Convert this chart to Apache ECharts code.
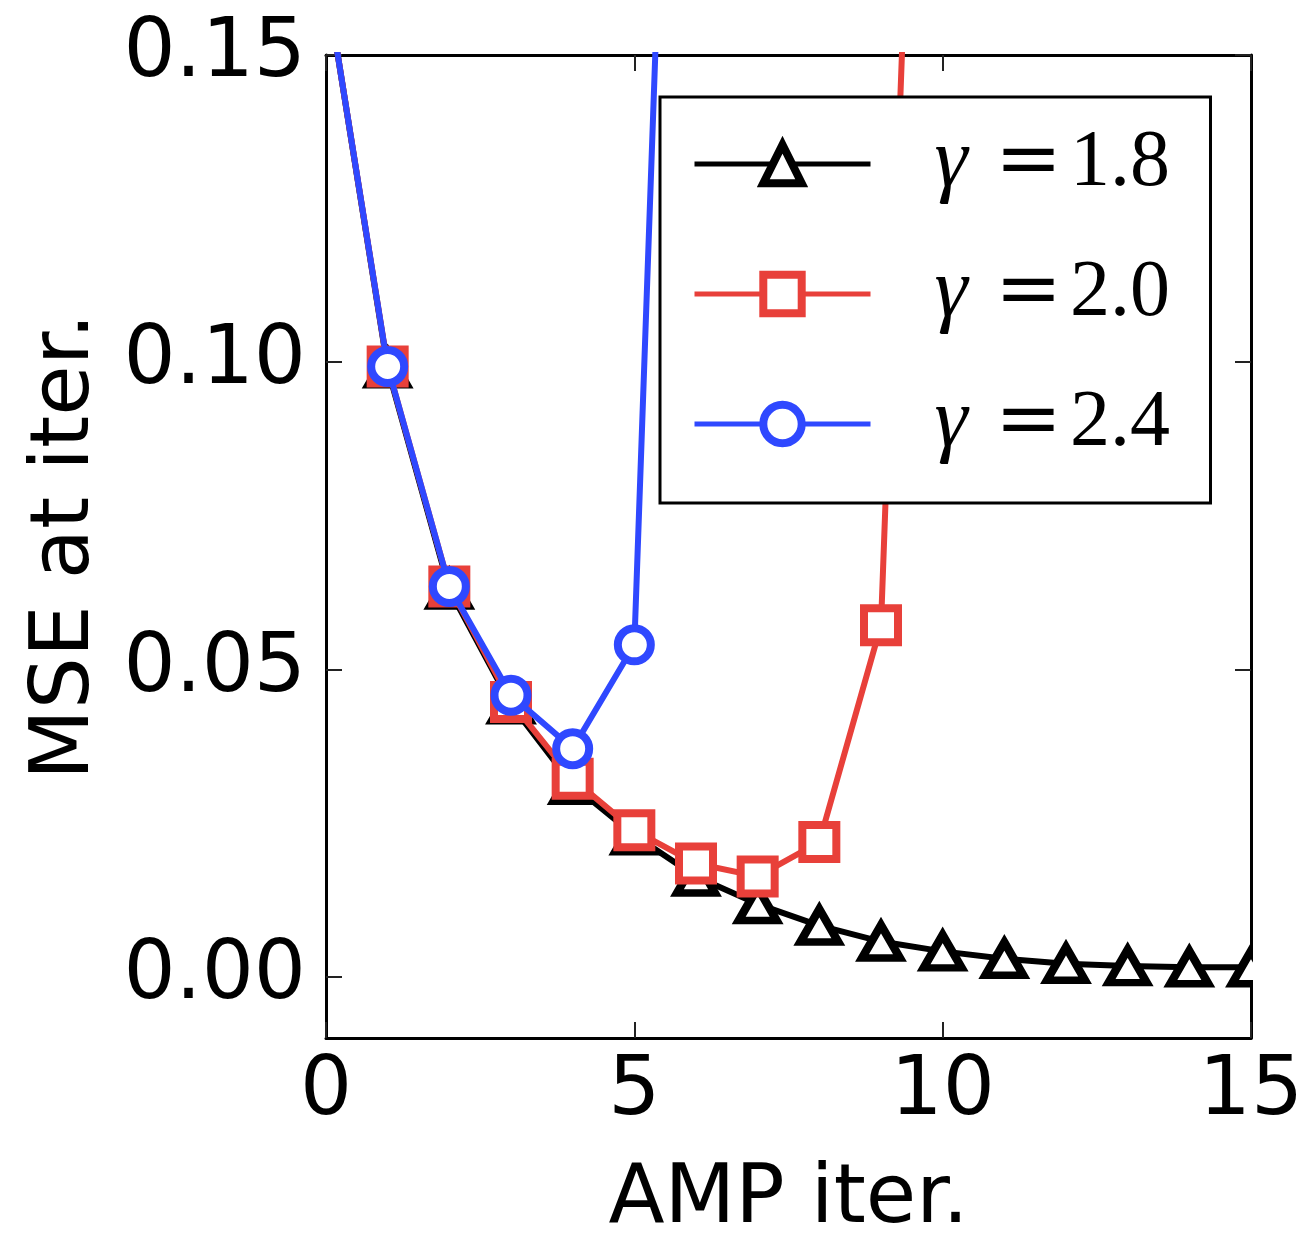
<!DOCTYPE html>
<html><head><meta charset="utf-8">
<script src="https://cdn.jsdelivr.net/npm/echarts@6/dist/echarts.min.js"></script>
<style>html,body{margin:0;padding:0;background:#fff}#c{width:1312px;height:1235px}</style>
</head><body><div id="c"></div>
<script>
// ---- data ----
const seriesNames = ['γ=1.8', 'γ=2.0', 'γ=2.4'];
const iters18 = [0, 1, 2, 3, 4, 5, 6, 7, 8, 9, 10, 11, 12, 13, 14, 15];
const mse18 = [0.162, 0.0990, 0.0630, 0.0443, 0.0312, 0.0230, 0.0163, 0.0118, 0.0083, 0.0057, 0.0041, 0.0029, 0.0021, 0.0017, 0.0015, 0.0015];
const iters20 = [0, 1, 2, 3, 4, 5, 6, 7, 8, 9, 10];
const mse20 = [0.162, 0.0993, 0.0635, 0.0447, 0.0322, 0.0238, 0.0184, 0.0163, 0.0219, 0.0572, 0.331];
const iters24 = [0, 1, 2, 3, 4, 5, 6];
const mse24 = [0.162, 0.0993, 0.0635, 0.0458, 0.0371, 0.0540, 0.337];
const xTicks = [0, 5, 10, 15];
const yTicks = [0.00, 0.05, 0.10, 0.15];

const pairs = (xs, ys) => xs.map((x, i) => [x, ys[i]]);
const SANS = 'DejaVu Sans';
const SERIF = 'Liberation Serif';
const colors = ['#000000', '#e8403a', '#2f48ff'];
const symbols = ['triangle', 'rect', 'circle'];
const sizes = [[38, 33], 34, 33];
const datas = [pairs(iters18, mse18), pairs(iters20, mse20), pairs(iters24, mse24)];

const chart = echarts.init(document.getElementById('c'), null, {renderer: 'canvas'});

const axisCommon = {
  axisLine: {show: true, onZero: false, lineStyle: {color: '#000', width: 3}},
  axisTick: {show: true, inside: true, length: 16, lineStyle: {color: '#222', width: 2}},
  splitLine: {show: false}
};

const option = {
  animation: false,
  backgroundColor: '#fff',
  grid: {left: 326, right: 61, top: 55, bottom: 197, containLabel: false, outerBoundsMode: 'none'},
  xAxis: [
    Object.assign({}, axisCommon, {
      type: 'value', position: 'bottom', min: 0, max: 15, interval: 5,
      name: 'AMP iter.', nameLocation: 'middle', nameGap: 122,
      nameTextStyle: {fontFamily: SANS, fontSize: 82, color: '#000'},
      axisLabel: {show: true, margin: 14, fontFamily: SANS, fontSize: 82, color: '#000',
        customValues: xTicks, formatter: v => String(v)},
      axisTick: Object.assign({}, axisCommon.axisTick, {customValues: xTicks})
    }),
    Object.assign({}, axisCommon, {
      type: 'value', position: 'top', min: 0, max: 15, interval: 5,
      axisLabel: {show: false},
      axisTick: Object.assign({}, axisCommon.axisTick, {customValues: xTicks})
    })
  ],
  yAxis: [
    Object.assign({}, axisCommon, {
      type: 'value', position: 'left', min: -0.01, max: 0.15,
      name: 'MSE at iter.', nameLocation: 'middle', nameGap: 218,
      nameTextStyle: {fontFamily: SANS, fontSize: 82, color: '#000'},
      axisLabel: {show: true, margin: 20, fontFamily: SANS, fontSize: 82, color: '#000',
        padding: [0, 0, 8, 0],
        customValues: yTicks, formatter: v => v.toFixed(2)},
      axisTick: Object.assign({}, axisCommon.axisTick, {customValues: yTicks})
    }),
    Object.assign({}, axisCommon, {
      type: 'value', position: 'right', min: -0.01, max: 0.15,
      axisLabel: {show: false},
      axisTick: Object.assign({}, axisCommon.axisTick, {customValues: yTicks})
    })
  ],
  legend: {
    show: true, orient: 'vertical', left: 660, top: 97,
    padding: [25, 38, 37, 32],
    itemWidth: 176, itemHeight: 48, itemGap: 46,
    borderColor: '#000', borderWidth: 3, backgroundColor: '#fff', borderRadius: 0,
    selectedMode: false,
    itemStyle: {borderWidth: 8},
    lineStyle: {width: 5},
    data: seriesNames,
    formatter: name => '{s| }{g|γ}{e|=}{n|' + name.split('=')[1] + '}',
    textStyle: {
      fontFamily: SERIF, fontSize: 80, color: '#000',
      rich: {
        s: {width: 59, fontSize: 80, lineHeight: 80},
        g: {width: 55, fontFamily: SERIF, fontStyle: 'italic', fontSize: 84, lineHeight: 80, color: '#000'},
        e: {width: 78, align: 'center', fontFamily: 'DejaVu Serif', fontSize: 80, lineHeight: 80, color: '#000'},
        n: {width: 105, fontFamily: SERIF, fontSize: 80, lineHeight: 80, color: '#000'}
      }
    }
  },
  graphic: [{
    type: 'rect', z: 50, silent: true,
    shape: {x: 1253, y: 30, width: 59, height: 1015},
    style: {fill: '#fff'}
  }],
  series: seriesNames.map((nm, i) => ({
    type: 'line', name: nm, data: datas[i],
    xAxisIndex: 0, yAxisIndex: 0,
    clip: true, silent: true,
    symbol: symbols[i], symbolSize: sizes[i], showAllSymbol: true,
    lineStyle: {color: colors[i], width: 6},
    itemStyle: {color: '#fff', borderColor: colors[i], borderWidth: 8, borderJoin: 'miter'},
    emphasis: {disabled: true},
    z: 2 + i
  }))
};
chart.setOption(option);
</script>
</body></html>
